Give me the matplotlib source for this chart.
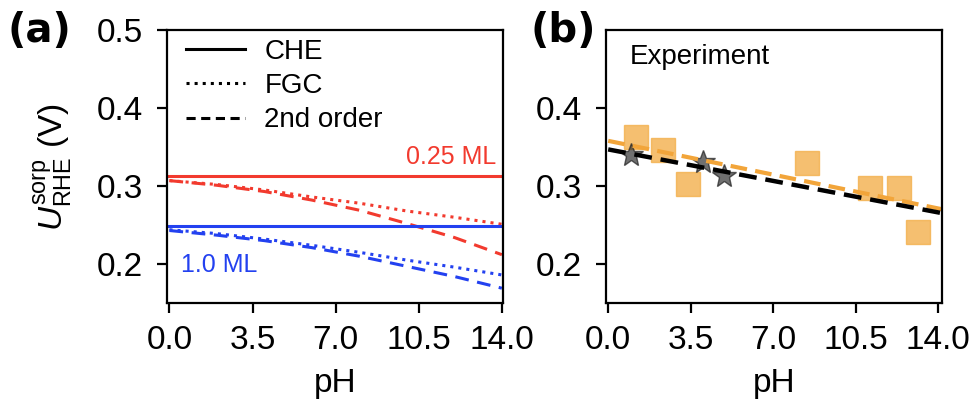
import matplotlib
matplotlib.use("Agg")
import matplotlib.pyplot as plt

plt.rcParams.update({
    "font.family": ["Liberation Sans", "DejaVu Sans"],
    "font.size": 24,
    "mathtext.fontset": "custom",
    "mathtext.rm": "Liberation Sans",
    "mathtext.it": "Liberation Sans:italic",
    "axes.linewidth": 1.6,
    "xtick.major.width": 1.6,
    "ytick.major.width": 1.6,
    "xtick.major.size": 7.5,
    "ytick.major.size": 7.5,
})

C_RED = "#f23a2e"
C_BLUE = "#2341f0"
C_ORANGE = "#f2a53a"
C_SQ = "#f3b04c"

# ── panel (a): model curves ──────────────────────────────────────────────
ph_model = [0, 2, 4, 6, 8, 10, 12, 14]
che_025 = [0.313] * 8
che_100 = [0.249] * 8
fgc_025 = [0.307, 0.302, 0.295, 0.286, 0.278, 0.268, 0.260, 0.251]
so_025 = [0.307, 0.301, 0.293, 0.282, 0.269, 0.252, 0.234, 0.212]
fgc_100 = [0.244, 0.239, 0.232, 0.224, 0.215, 0.205, 0.196, 0.186]
so_100 = [0.243, 0.237, 0.230, 0.221, 0.210, 0.197, 0.184, 0.169]

# ── panel (b): experiment ───────────────────────────────────────────────
exp_ph = [1.18, 2.31, 3.40, 8.42, 11.12, 12.32, 13.14]
exp_u = [0.363, 0.346, 0.303, 0.329, 0.298, 0.298, 0.241]
star_ph = [0.97, 4.0, 4.92]
star_u = [0.340, 0.331, 0.313]
fit_ph = [0.0, 14.2]
fit_orange = [0.358, 0.270]
fit_black = [0.347, 0.265]

xticks = [0.0, 3.5, 7.0, 10.5, 14.0]

fig = plt.figure(figsize=(9.74, 4.07), dpi=100)
ax_a = fig.add_axes([0.1715, 0.2555, 0.345, 0.6705])
ax_b = fig.add_axes([0.622, 0.2555, 0.345, 0.6705])

dash = (4.5, 2.8)
lw = 2.2
ax_a.plot(ph_model, che_025, color=C_RED, lw=lw)
ax_a.plot(ph_model, fgc_025, color=C_RED, lw=lw, linestyle=":")
ax_a.plot(ph_model, so_025, color=C_RED, lw=lw, dashes=dash)
ax_a.plot(ph_model, che_100, color=C_BLUE, lw=lw)
ax_a.plot(ph_model, fgc_100, color=C_BLUE, lw=lw, linestyle=":")
ax_a.plot(ph_model, so_100, color=C_BLUE, lw=lw, dashes=dash)

# legend handles (black)
h1, = ax_a.plot([], [], color="black", lw=lw, label="CHE")
h2, = ax_a.plot([], [], color="black", lw=lw, linestyle=":", label="FGC")
h3, = ax_a.plot([], [], color="black", lw=lw, dashes=(3, 1.8), label="2nd order")
ax_a.legend(handles=[h1, h2, h3], loc="upper left", frameon=False,
            fontsize=20, handlelength=2.1, labelspacing=0.3,
            borderaxespad=0.3, handletextpad=0.7,
            bbox_to_anchor=(0.0, 1.04))

ax_a.text(13.75, 0.3215, "0.25 ML", color=C_RED, fontsize=18,
          ha="right", va="bottom")
ax_a.text(0.5, 0.199, "1.0 ML", color=C_BLUE, fontsize=18,
          ha="left", va="center")

ax_a.set_xlim(-0.1, 14.05)
ax_a.set_ylim(0.15, 0.5)
ax_a.set_yticks([0.2, 0.3, 0.4, 0.5])
ax_a.set_xticks(xticks)
ax_a.set_xlabel("pH", labelpad=9)
ax_a.set_ylabel(r"$U_{\mathrm{RHE}}^{\mathrm{sorp}}$ (V)", labelpad=16)

ax_b.plot(exp_ph, exp_u, linestyle="none", marker="s", ms=17,
          color=C_SQ, alpha=0.8, mec=C_SQ)
ax_b.plot(star_ph, star_u, linestyle="none", marker="*", ms=18,
          color="#333333", alpha=0.7, mec="#222222")
ax_b.plot(fit_ph, fit_orange, color=C_ORANGE, lw=3, dashes=(4, 2))
ax_b.plot(fit_ph, fit_black, color="black", lw=3.2, dashes=(4, 2))
ax_b.text(0.07, 0.90, "Experiment", transform=ax_b.transAxes,
          fontsize=20, ha="left", va="center")

ax_b.set_xlim(-0.1, 14.15)
ax_b.set_ylim(0.15, 0.5)
ax_b.set_yticks([0.2, 0.3, 0.4])
ax_b.set_xticks(xticks)
ax_b.set_xlabel("pH", labelpad=9)

for ax in (ax_a, ax_b):
    ax.tick_params(direction="out", top=False, right=False)
    ax.tick_params(axis="x", pad=8)
    ax.tick_params(axis="y", pad=10)
    ax.xaxis.set_major_formatter(matplotlib.ticker.FormatStrFormatter("%.1f"))
    ax.yaxis.set_major_formatter(matplotlib.ticker.FormatStrFormatter("%.1f"))

fig.text(0.008, 0.925, "(a)", fontsize=29, fontweight="bold",
         family="DejaVu Sans", ha="left", va="center")
fig.text(0.545, 0.925, "(b)", fontsize=29, fontweight="bold",
         family="DejaVu Sans", ha="left", va="center")

fig.savefig("out.png", dpi=100)
